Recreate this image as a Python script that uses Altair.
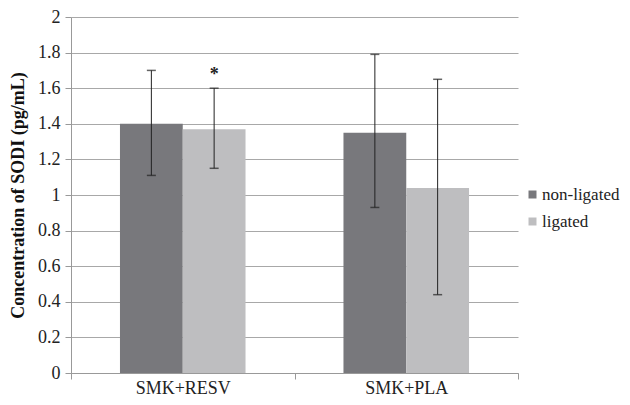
import altair as alt
import pandas as pd

categories = ["SMK+RESV", "SMK+RESV", "SMK+PLA", "SMK+PLA"]
groups = ["non-ligated", "ligated", "non-ligated", "ligated"]
means = [1.40, 1.37, 1.35, 1.04]
lows = [1.11, 1.15, 0.93, 0.44]
highs = [1.70, 1.60, 1.79, 1.65]
stars = ["", "*", "", ""]
y_ticks = [0, 0.2, 0.4, 0.6, 0.8, 1, 1.2, 1.4, 1.6, 1.8, 2]

df = pd.DataFrame({"cat": categories, "grp": groups, "mean": means,
                   "lo": lows, "hi": highs, "star": stars})

font = "Liberation Serif"
fs = 18

base = alt.Chart(df).encode(
    x=alt.X("cat:N", sort=["SMK+RESV", "SMK+PLA"], title=None,
            scale=alt.Scale(paddingInner=0, paddingOuter=0),
            axis=alt.Axis(labelAngle=0, tickBand="extent", tickSize=6, labelPadding=0, grid=False,
                          labelFont=font, labelFontSize=fs)),
    xOffset=alt.XOffset("grp:N", sort=["non-ligated", "ligated"],
                        scale=alt.Scale(paddingOuter=0.78, paddingInner=0)),
)

title = "Concentration of SODI (pg/mL)"
yscale = alt.Scale(domain=[0, 2], nice=False)
yaxis = alt.Axis(values=y_ticks, format="~g", labelOverlap=False,
                 labelFont=font, labelFontSize=fs, titleFont=font, titleFontSize=fs,
                 titleFontWeight="bold", titleColor="#111",
                 tickSize=6, labelPadding=5, titlePadding=10,
                 gridColor="#a8a8a8", gridWidth=1.2)

bars = base.mark_bar().encode(
    y=alt.Y("mean:Q", title=title, scale=yscale, axis=yaxis),
    color=alt.Color("grp:N", sort=["non-ligated", "ligated"],
                    scale=alt.Scale(domain=["non-ligated", "ligated"], range=["#78787c", "#bebec0"]),
                    legend=alt.Legend(title=None, orient="none", legendX=453, legendY=169,
                                      symbolType="square", symbolSize=64, symbolStrokeWidth=0,
                                      rowPadding=9, labelOffset=1, labelFont=font, labelFontSize=17,
                                      padding=0)),
)
rules = base.mark_rule(color="#222", strokeWidth=1).encode(
    y=alt.Y("lo:Q", title=title, scale=yscale, axis=yaxis), y2="hi:Q")
caps_hi = base.mark_tick(color="#222", thickness=1.5, size=9, orient="horizontal").encode(
    y=alt.Y("hi:Q", title=title, scale=yscale, axis=yaxis))
caps_lo = base.mark_tick(color="#222", thickness=1.5, size=9, orient="horizontal").encode(
    y=alt.Y("lo:Q", title=title, scale=yscale, axis=yaxis))
star = base.mark_text(font=font, fontSize=18, fontWeight="bold", dy=-13, color="#222").encode(
    y=alt.Y("hi:Q", title=title, scale=yscale, axis=yaxis), text="star:N")

chart = alt.layer(bars, rules, caps_hi, caps_lo, star).properties(
    width=447, height=356,
    autosize=alt.AutoSizeParams(type="none"),
    padding={"left": 63, "top": 9, "right": 104, "bottom": 24},
).configure_view(stroke=None).configure_axis(
    labelFont=font, labelColor="#222", domainColor="#999", tickColor="#999"
).configure_legend(labelFont=font, labelColor="#222")

chart.save("out.html", embed_options={"renderer": "svg", "actions": False})
